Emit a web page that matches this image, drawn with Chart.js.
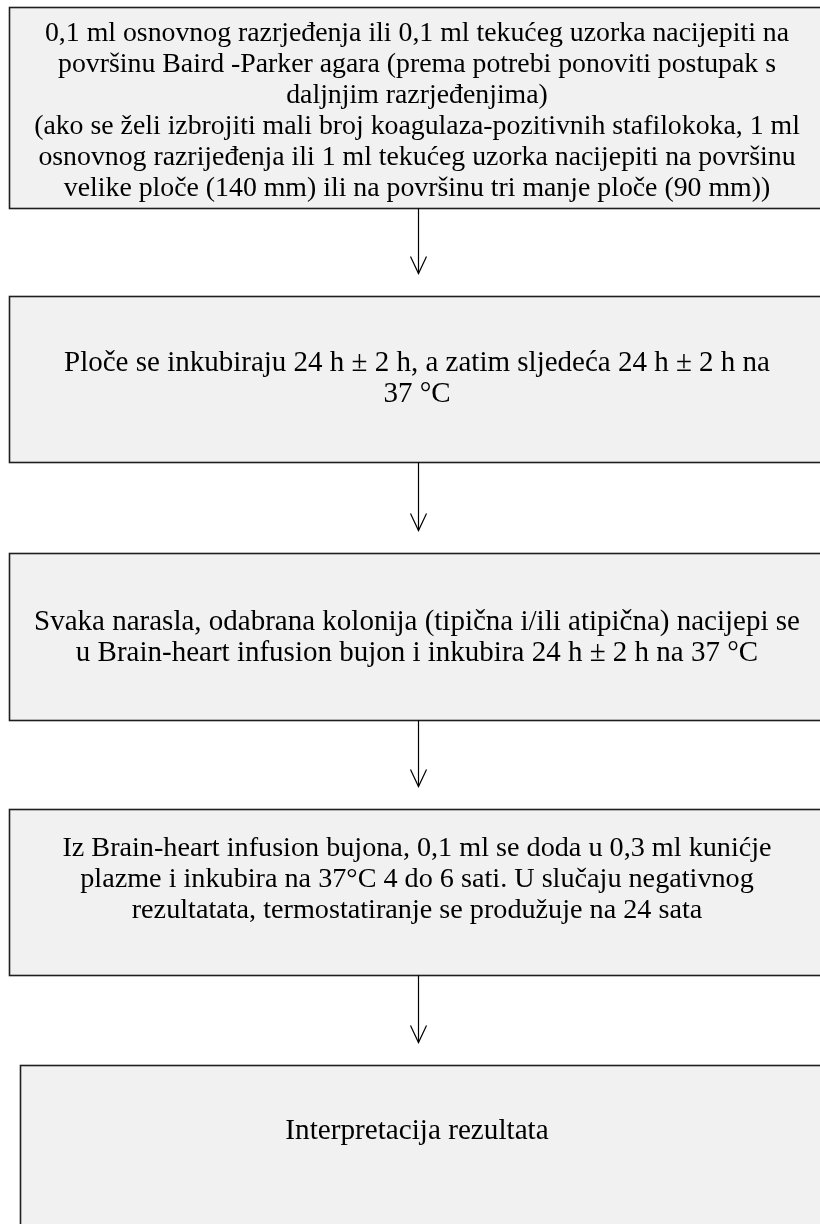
<!DOCTYPE html>
<html>
<head>
<meta charset="utf-8">
<script src="https://cdn.jsdelivr.net/npm/chart.js@4/dist/chart.umd.min.js"></script>
<style>
html,body{margin:0;padding:0;background:#fff;}
#wrap{position:relative;width:820px;height:1224px;}
</style>
</head>
<body>
<div id="wrap"><canvas id="c"></canvas></div>
<script>
// Flowchart steps (text content)
const step1 = [
  "0,1 ml osnovnog razrjeđenja ili 0,1 ml tekućeg uzorka nacijepiti na",
  "površinu Baird -Parker agara (prema potrebi ponoviti postupak s",
  "daljnjim razrjeđenjima)",
  "(ako se želi izbrojiti mali broj koagulaza-pozitivnih stafilokoka, 1 ml",
  "osnovnog razrijeđenja ili 1 ml tekućeg uzorka nacijepiti na površinu",
  "velike ploče (140 mm) ili na površinu tri manje ploče (90 mm))"
];
const step2 = [
  "Ploče se inkubiraju 24 h ± 2 h, a zatim sljedeća 24 h ± 2 h na",
  "37 °C"
];
const step3 = [
  "Svaka narasla, odabrana kolonija (tipična i/ili atipična) nacijepi se",
  "u Brain-heart infusion bujon i inkubira 24 h ± 2 h na 37 °C"
];
const step4 = [
  "Iz Brain-heart infusion bujona, 0,1 ml se doda u 0,3 ml kunićje",
  "plazme i inkubira na 37°C 4 do 6 sati. U slučaju negativnog",
  "rezultatata, termostatiranje se produžuje na 24 sata"
];
const step5 = ["Interpretacija rezultata"];
const steps = [step1, step2, step3, step4, step5];

// Layout (canvas units, y grows downward via reversed axis)
const boxLeft   = [9.5, 9.5, 9.5, 9.5, 20.5];
const boxTop    = [7.5, 296.5, 553.5, 809.5, 1065.5];
const boxBottom = [208.5, 462.5, 720.5, 975.5, 1240];
const textFirst = [34, 363, 622, 849, 1131];
const fontPx    = [27.8, 29, 29, 28.2, 29.2];
const lineGap = 31;
const textCenterX = 417;
const arrowX = 418.5;

const flowPlugin = {
  id: 'flow',
  afterDraw(chart) {
    const ctx = chart.ctx;
    const xs = chart.scales.x, ys = chart.scales.y;
    const X = v => xs.getPixelForValue(v);
    const Y = v => ys.getPixelForValue(v);
    ctx.save();
    // boxes
    steps.forEach((lines, i) => {
      const x0 = X(boxLeft[i]), x1 = X(830);
      const y0 = Y(boxTop[i]), y1 = Y(boxBottom[i]);
      ctx.fillStyle = '#f1f1f1';
      ctx.fillRect(x0, y0, x1 - x0, y1 - y0);
      ctx.strokeStyle = '#1e1e1e';
      ctx.lineWidth = 1.6;
      ctx.strokeRect(x0, y0, x1 - x0, y1 - y0);
      // text, clipped to box
      ctx.save();
      ctx.beginPath();
      ctx.rect(x0 + 1, y0 + 1, x1 - x0 - 2, y1 - y0 - 2);
      ctx.clip();
      ctx.fillStyle = '#000';
      ctx.font = fontPx[i] + 'px "Liberation Serif", "Times New Roman", serif';
      ctx.textAlign = 'center';
      ctx.textBaseline = 'middle';
      lines.forEach((t, k) => {
        ctx.fillText(t, X(textCenterX), Y(textFirst[i] + k * lineGap));
      });
      ctx.restore();
    });
    // arrows
    ctx.strokeStyle = '#000';
    ctx.lineWidth = 1.2;
    for (let i = 0; i < steps.length - 1; i++) {
      const ys0 = Y(boxBottom[i]);
      const tip = Y(boxTop[i + 1] - 23);
      ctx.beginPath();
      ctx.moveTo(X(arrowX), ys0);
      ctx.lineTo(X(arrowX), tip);
      ctx.stroke();
      ctx.beginPath();
      ctx.moveTo(X(arrowX - 8), tip - 17);
      ctx.lineTo(X(arrowX), tip);
      ctx.lineTo(X(arrowX + 8), tip - 17);
      ctx.stroke();
    }
    ctx.restore();
  }
};

new Chart(document.getElementById('c'), {
  type: 'scatter',
  data: { datasets: [{ data: [], pointRadius: 0 }] },
  options: {
    responsive: true,
    maintainAspectRatio: false,
    animation: false,
    layout: { padding: 0 },
    plugins: { legend: { display: false }, tooltip: { enabled: false } },
    scales: {
      x: { type: 'linear', min: 0, max: 820, display: false },
      y: { type: 'linear', min: 0, max: 1224, reverse: true, display: false }
    }
  },
  plugins: [flowPlugin]
});
</script>
</body>
</html>
